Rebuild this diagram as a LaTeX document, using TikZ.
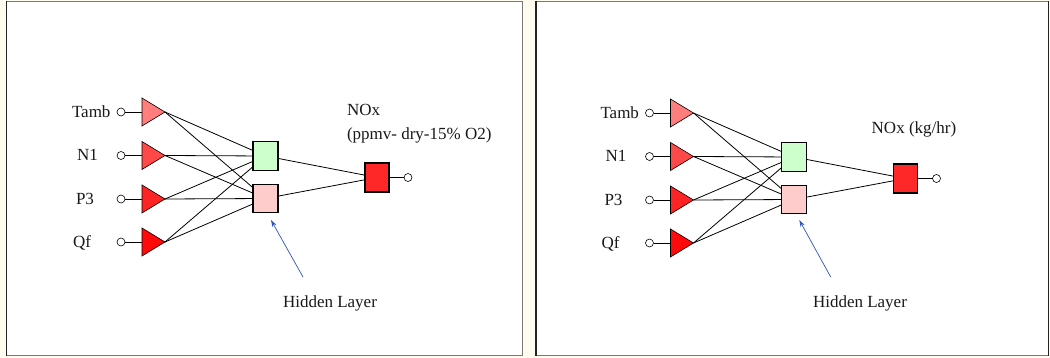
\documentclass[tikz,border=0pt]{standalone}
\usepackage{fontspec}
\setmainfont{Liberation Serif}
\usetikzlibrary{shapes.geometric,arrows.meta}
\definecolor{bgcream}{RGB}{255,251,238}
\definecolor{triA}{RGB}{255,125,125}
\definecolor{triB}{RGB}{255,72,72}
\definecolor{triC}{RGB}{255,36,36}
\definecolor{triD}{RGB}{255,10,10}
\definecolor{hidG}{RGB}{204,255,204}
\definecolor{hidP}{RGB}{255,204,204}
\definecolor{outR}{RGB}{255,40,40}
\definecolor{arrowblue}{RGB}{45,85,190}
\definecolor{edgegray}{RGB}{120,120,120}
\definecolor{edgedark}{RGB}{35,35,35}
\tikzset{
  lbl/.style={anchor=base west, inner sep=0, outer sep=0, text=black!90},
  tri/.style={isosceles triangle, isosceles triangle stretches, minimum width=28pt, minimum height=23pt, inner sep=0, outer sep=0, draw=black, line width=0.6pt, anchor=lower side},
  dot/.style={circle, draw=black, fill=white, minimum size=8pt, inner sep=0, outer sep=0, line width=0.6pt},
  hidbox/.style={rectangle, draw=black, minimum width=25pt, minimum height=28.5pt, inner sep=0, outer sep=0, line width=1.2pt},
  outbox/.style={rectangle, draw=black, fill=outR, minimum width=24pt, minimum height=29pt, inner sep=0, outer sep=0, line width=1.2pt},
  conn/.style={draw=black, line width=0.8pt},
  pointer/.style={draw=arrowblue, line width=0.7pt, -{Stealth[length=7pt,width=4.5pt]}},
}
\newcommand\nnpanel[1]{%
  \node[lbl] (#1-l1) at (72,117.5) {Tamb};
  \node[lbl] (#1-l2) at (77,161) {N1};
  \node[lbl] (#1-l3) at (76,204.5) {P3};
  \node[lbl] (#1-l4) at (73,247.5) {Qf};
  \node[dot] (#1-c1) at (121,112) {};
  \node[dot] (#1-c2) at (121,155.5) {};
  \node[dot] (#1-c3) at (121,199) {};
  \node[dot] (#1-c4) at (121,242) {};
  \node[tri, fill=triA] (#1-t1) at (142,112) {};
  \node[tri, fill=triB] (#1-t2) at (142,155.5) {};
  \node[tri, fill=triC] (#1-t3) at (142,199) {};
  \node[tri, fill=triD] (#1-t4) at (142,242) {};
  \node[hidbox, fill=hidG] (#1-h1) at (265.5,156) {};
  \node[hidbox, fill=hidP] (#1-h2) at (265.5,198.5) {};
  \node[outbox] (#1-o) at (377,177.5) {};
  \node[dot] (#1-co) at (408,177.5) {};
  \foreach \i in {1,...,4} {
    \draw[conn] (#1-c\i) -- (#1-t\i);
    \foreach \j in {1,2} {\draw[conn] (#1-t\i.apex) -- (#1-h\j);}
  }
  \foreach \j in {1,2} {\draw[conn] (#1-h\j) -- (#1-o);}
  \draw[conn] (#1-o) -- (#1-co);
}
\begin{document}
\begin{tikzpicture}[x=1pt,y=-1pt,font=\fontsize{17}{20}\selectfont]
\fill[bgcream] (0,0) rectangle (1050,358);
\useasboundingbox (0,0) rectangle (1050,358);
% panel frames
\fill[white] (6.5,1.5) rectangle (522.5,355.5);
\fill[white] (536,1.5) rectangle (1048.5,355.5);
\draw[edgegray, line width=1.3pt] (6.5,1.5) -- (522.5,1.5) (6.5,355.5) -- (522.5,355.5);
\draw[edgegray, line width=1.3pt] (536,1.5) -- (1048.5,1.5) (536,355.5) -- (1048.5,355.5);
\draw[edgedark, line width=1.3pt] (6.5,1.5) -- (6.5,355.5) (536,1.5) -- (536,355.5) (1048.5,1.5) -- (1048.5,355.5);
\draw[edgegray, line width=1.3pt] (522.5,1.5) -- (522.5,355.5);
% panel 1
\begin{scope}
  \nnpanel{a}
  \node[lbl] (a-nox) at (347,115.5) {NOx};
  \node[lbl] (a-unit) at (347,140) {(ppmv- dry-15\% O2)};
  \coordinate (a-as) at (303,277);
  \coordinate (a-ae) at (271,220);
  \draw[pointer] (a-as) -- (a-ae);
  \node[lbl] (a-hl) at (283,308) {Hidden Layer};
\end{scope}
% panel 2
\begin{scope}[shift={(528.5,1)}]
  \nnpanel{b}
  \node[lbl] (b-nox) at (343.2,133) {NOx (kg/hr)};
  \coordinate (b-as) at (302.2,276);
  \coordinate (b-ae) at (270.8,219);
  \draw[pointer] (b-as) -- (b-ae);
  \node[lbl] (b-hl) at (284.5,307) {Hidden Layer};
\end{scope}
\end{tikzpicture}
\end{document}
